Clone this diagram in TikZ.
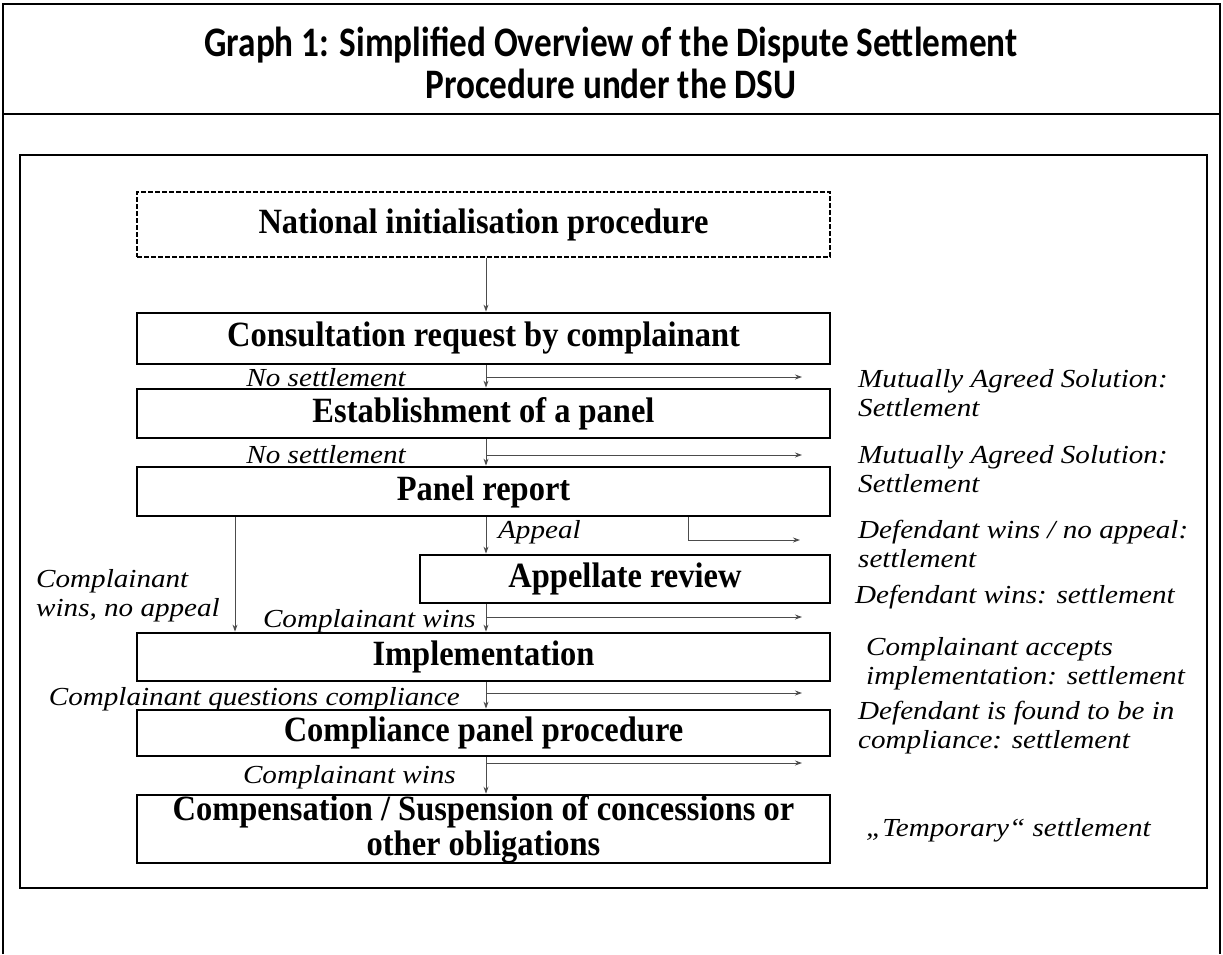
\documentclass[tikz,border=0pt]{standalone}
\usepackage{fontspec}
\setmainfont{Liberation Serif}
\newfontfamily\titlefont{Carlito}
\newfontfamily\boxfont[FakeStretch=0.915]{Liberation Serif}
\newfontfamily\lblfont[FakeStretch=1.12]{Liberation Serif}
\usetikzlibrary{arrows.meta}
\begin{document}
\begin{tikzpicture}[x=1pt,y=-1pt,
  stepbox/.style={draw, line width=2.8pt, minimum width=693pt, minimum height=49pt, align=center,
    inner sep=0pt, font=\boxfont\fontsize{35.5}{36}\selectfont\bfseries},
  lbl/.style={inner sep=0pt, font=\lblfont\fontsize{26}{29}\selectfont\itshape, text height=0.68em, text depth=0.2em},
  rlbl/.style={inner sep=0pt, anchor=west, align=left, font=\lblfont\fontsize{26}{29}\selectfont\itshape},
  conn/.style={draw=black!70, line width=0.9pt, -{Stealth[length=7pt,width=5pt]}},
  frame/.style={line width=1.6pt}
]
\useasboundingbox (0,0) rectangle (1223,954);
% outer frame
\draw[frame] (3,954) -- (3,4) -- (1220,4) -- (1220,954);
\draw[frame] (3,114) -- (1220,114);
\node[inner sep=0pt] (title) at (611,69) {\resizebox{813pt}{\height}{\titlefont\bfseries\fontsize{42}{41}\selectfont
  \begin{tabular}{@{}c@{}}Graph 1: Simplified Overview of the Dispute Settlement\\Procedure under the DSU\end{tabular}}};
% inner frame
\draw[frame] (20,155) rectangle (1207,888);
% boxes
\node[stepbox, dashed, dash pattern=on 5pt off 2pt, line width=1.3pt, minimum height=65pt] (nat) at (483.5,224.5) {National initialisation procedure};
\node[stepbox, minimum height=51pt] (cons) at (483.5,338.5) {Consultation request by complainant};
\node[stepbox] (est) at (483.5,413.5) {Establishment of a panel};
\node[stepbox] (pan) at (483.5,491.5) {Panel report};
\node[stepbox, minimum width=410pt, minimum height=48pt] (app) at (625,579) {Appellate review};
\node[stepbox, minimum height=48pt] (impl) at (483.5,657) {Implementation};
\node[stepbox, minimum height=46pt] (cpp) at (483.5,733) {Compliance panel procedure};
\node[stepbox, minimum height=67pt, font=\boxfont\fontsize{35.5}{35}\selectfont\bfseries] (comp) at (483.5,829) {Compensation / Suspension of concessions or\\other obligations};
% column coordinates
\coordinate (c) at (486,0);
\coordinate (lx) at (235,0);
\coordinate (s1) at (802,377);
\coordinate (s2) at (802,455);
\coordinate (b3) at (688,540);
\coordinate (s3) at (800,540);
\coordinate (s4) at (802,617);
\coordinate (s5) at (802,693);
\coordinate (s6) at (802,763);
% vertical connectors
\draw[conn] (nat.south -| c) -- (cons.north -| c);
\draw[conn] (cons.south -| c) -- (est.north -| c);
\draw[conn] (est.south -| c) -- (pan.north -| c);
\draw[conn] (pan.south -| c) -- (app.north -| c);
\draw[conn] (pan.south -| lx) -- (impl.north -| lx);
\draw[conn] (app.south -| c) -- (impl.north -| c);
\draw[conn] (impl.south -| c) -- (cpp.north -| c);
\draw[conn] (cpp.south -| c) -- (comp.north -| c);
% side connectors
\draw[conn] (s1 -| c) -- (s1);
\draw[conn] (s2 -| c) -- (s2);
\draw[conn] (pan.south -| b3) -- (b3) -- (s3);
\draw[conn] (s4 -| c) -- (s4);
\draw[conn] (s5 -| c) -- (s5);
\draw[conn] (s6 -| c) -- (s6);
% connector labels
\node[lbl, anchor=east] (l1) at (406,384) {No settlement};
\node[lbl, anchor=east] (l2) at (406,461) {No settlement};
\node[lbl, anchor=west] (l3) at (498,536) {Appeal};
\node[rlbl] (l4) at (36,596) {Complainant\\wins, no appeal};
\node[lbl, anchor=east] (l5) at (476,625) {Complainant wins};
\node[lbl, anchor=east] (l6) at (460,703) {Complainant questions compliance};
\node[lbl, anchor=east] (l7) at (456,781) {Complainant wins};
% right labels
\node[rlbl] (r1) at (858,393) {Mutually Agreed Solution:\\Settlement};
\node[rlbl] (r2) at (858,469) {Mutually Agreed Solution:\\Settlement};
\node[rlbl] (r3) at (858,544) {Defendant wins / no appeal:\\settlement};
\node[lbl, anchor=west] (r4) at (855,601) {Defendant wins: settlement};
\node[rlbl] (r5) at (866,664) {Complainant accepts\\implementation: settlement};
\node[rlbl] (r6) at (858,728) {Defendant is found to be in\\compliance: settlement};
\node[lbl, anchor=west] (r7) at (866,834) {„Temporary“ settlement};
\end{tikzpicture}
\end{document}
